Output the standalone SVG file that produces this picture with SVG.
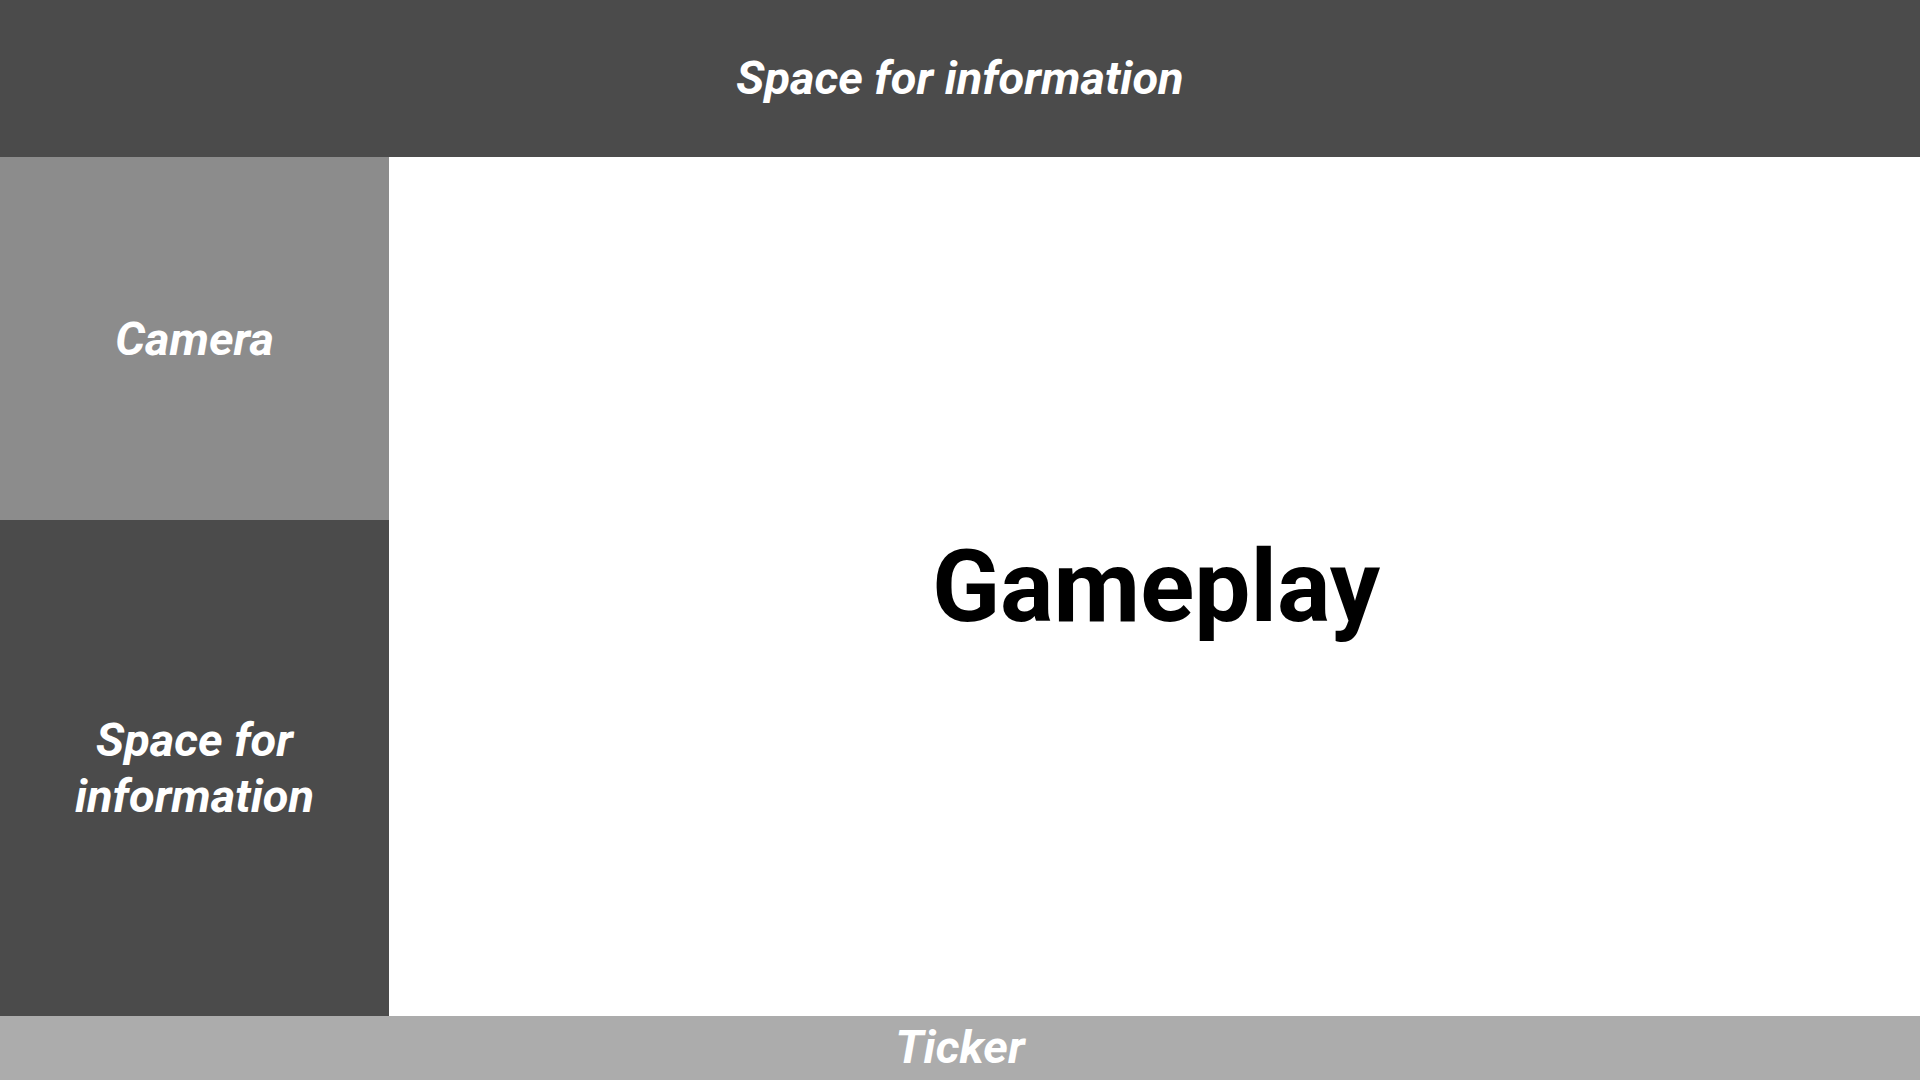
<svg xmlns="http://www.w3.org/2000/svg" width="1920" height="1080" viewBox="0 0 1920 1080">
<style>
.lbl{font-family:Roboto,"Liberation Sans",sans-serif;font-weight:700;font-style:italic;font-size:47px;fill:#ffffff;text-anchor:middle}
.big{font-family:Roboto,"Liberation Sans",sans-serif;font-weight:700;font-size:100px;fill:#000000;text-anchor:middle}
</style>
<rect width="1920" height="1080" fill="#ffffff"/>
<g id="top-info">
<rect x="0" y="0" width="1920" height="157" fill="#4b4b4b"/>
<text class="lbl" x="960" y="94">Space for information</text>
</g>
<g id="camera">
<rect x="0" y="157" width="389" height="363" fill="#8c8c8c"/>
<text class="lbl" x="194.5" y="355">Camera</text>
</g>
<g id="side-info">
<rect x="0" y="520" width="389" height="496" fill="#4b4b4b"/>
<text class="lbl" x="194.5" y="756">Space for</text>
<text class="lbl" x="194.5" y="812">information</text>
</g>
<g id="gameplay">
<rect x="389" y="157" width="1531" height="859" fill="#ffffff"/>
<text class="big" x="1156" y="621">Gameplay</text>
</g>
<g id="ticker">
<rect x="0" y="1016" width="1920" height="64" fill="#acacac"/>
<text class="lbl" x="960" y="1063">Ticker</text>
</g>
<g id="connectors"/>
</svg>
